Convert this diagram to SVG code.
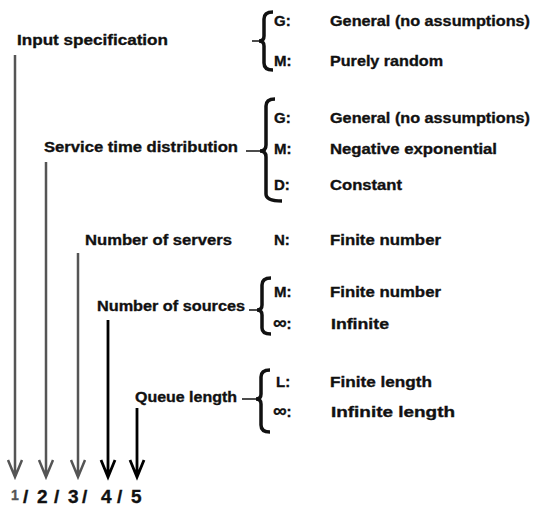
<svg xmlns="http://www.w3.org/2000/svg" width="534" height="507" viewBox="0 0 534 507">
<style>
text{font-family:"Liberation Sans",Arial,sans-serif;font-weight:bold;font-size:15px;fill:#111;stroke:#111;stroke-width:0.35}
.brace{fill:none;stroke:#111;stroke-width:3.5;stroke-linecap:butt}
.tick{stroke:#111;stroke-width:1.5}
.a1{stroke:#555;stroke-width:2.5;fill:none}
.a2{stroke:#000;stroke-width:2.8;fill:none}
.num{font-size:19px}
.inf{font-size:19px}
</style>
<rect width="534" height="507" fill="#fff"/>
<g id="connectors">
<path class="a1" d="M15,55 V476 M8,460 L15,477 L22,460"/>
<path class="a1" d="M46,162 V476 M39,460 L46,477 L53,460"/>
<path class="a1" d="M78,253 V476 M71,460 L78,477 L85,460"/>
<path class="a2" d="M108,320 V476 M101,460 L108,477 L115,460"/>
<path class="a2" d="M137,408 V476 M130,460 L137,477 L144,460"/>
</g>
<g id="input">
<text x="17" y="45" textLength="151" lengthAdjust="spacingAndGlyphs">Input specification</text>
<line class="tick" x1="252" y1="41" x2="260" y2="41"/>
<path class="brace" d="M273,12 Q264,12 264,19 L264,36 Q264,41 259,41 Q264,41 264,46 L264,63 Q264,70 273,70"/>
<text x="274" y="26">G:</text><text x="330" y="26" textLength="200" lengthAdjust="spacingAndGlyphs">General (no assumptions)</text>
<text x="274" y="66">M:</text><text x="330" y="66" textLength="113" lengthAdjust="spacingAndGlyphs">Purely random</text>
</g>
<g id="service">
<text x="44" y="152" textLength="194" lengthAdjust="spacingAndGlyphs">Service time distribution</text>
<line class="tick" x1="246" y1="151" x2="261" y2="151"/>
<path class="brace" d="M275,99 Q266,99 266,106 L266,145 Q266,151 260,151 Q266,151 266,157 L266,194 Q266,201 282,201"/>
<text x="274" y="123">G:</text><text x="330" y="123" textLength="200" lengthAdjust="spacingAndGlyphs">General (no assumptions)</text>
<text x="274" y="154">M:</text><text x="330" y="154" textLength="167" lengthAdjust="spacingAndGlyphs">Negative exponential</text>
<text x="274" y="190">D:</text><text x="330" y="190" textLength="72" lengthAdjust="spacingAndGlyphs">Constant</text>
</g>
<g id="servers">
<text x="85" y="245" textLength="147" lengthAdjust="spacingAndGlyphs">Number of servers</text>
<text x="274" y="245">N:</text><text x="330" y="245" textLength="111" lengthAdjust="spacingAndGlyphs">Finite number</text>
</g>
<g id="sources">
<text x="97" y="311" textLength="148" lengthAdjust="spacingAndGlyphs">Number of sources</text>
<line class="tick" x1="249" y1="310" x2="258" y2="310"/>
<path class="brace" d="M271,278 Q262,278 262,285 L262,305 Q262,310 257,310 Q262,310 262,315 L262,328 Q262,334 271,334"/>
<text x="274" y="297">M:</text><text x="330" y="297" textLength="111" lengthAdjust="spacingAndGlyphs">Finite number</text>
<text x="273" y="329"><tspan class="inf">∞</tspan>:</text><text x="331" y="329" textLength="58" lengthAdjust="spacingAndGlyphs">Infinite</text>
</g>
<g id="queue">
<text x="135" y="402" textLength="102" lengthAdjust="spacingAndGlyphs">Queue length</text>
<line class="tick" x1="242" y1="399" x2="256" y2="399"/>
<path class="brace" d="M270,370 Q261,370 261,377 L261,394 Q261,399 256,399 Q261,399 261,404 L261,425 Q261,432 270,432"/>
<text x="276" y="387">L:</text><text x="330" y="387" textLength="102" lengthAdjust="spacingAndGlyphs">Finite length</text>
<text x="273" y="417"><tspan class="inf">∞</tspan>:</text><text x="331" y="417" textLength="124" lengthAdjust="spacingAndGlyphs">Infinite length</text>
</g>
<g id="labels">
<text x="11" y="500" style="fill:#555;stroke:#555;font-size:14px">1</text>
<text class="num" x="23" y="503">/</text>
<text class="num" x="37" y="503">2</text>
<text class="num" x="54" y="503">/</text>
<text class="num" x="68" y="503">3</text>
<text class="num" x="82" y="503">/</text>
<text class="num" x="101" y="503">4</text>
<text class="num" x="117" y="503">/</text>
<text class="num" x="131" y="503">5</text>
</g>
</svg>
